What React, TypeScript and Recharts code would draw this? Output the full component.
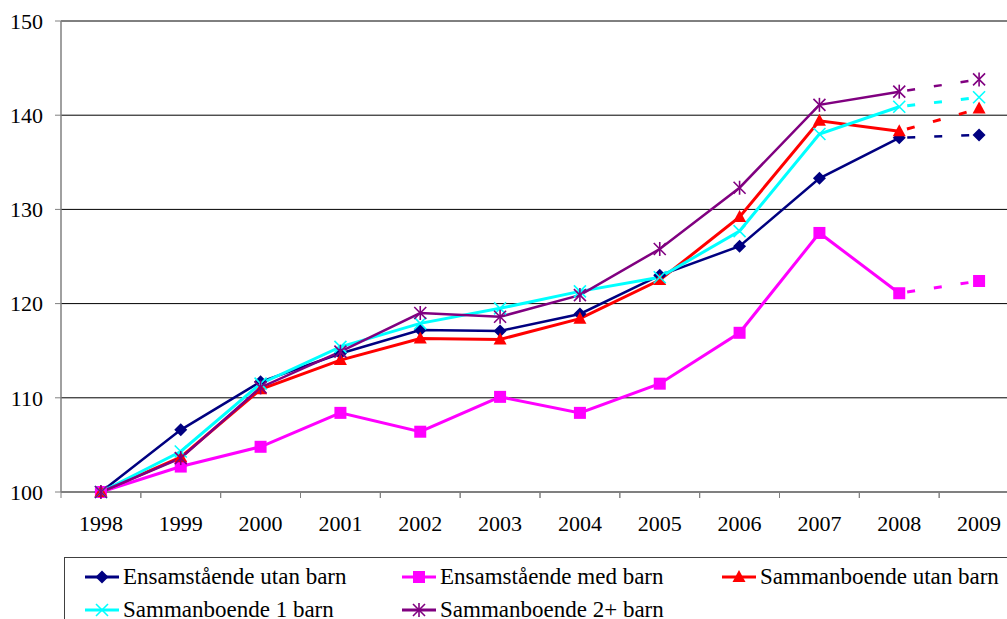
import React from 'react';
import { LineChart, Line, XAxis, YAxis, CartesianGrid } from 'recharts';

const years = ['1998', '1999', '2000', '2001', '2002', '2003', '2004', '2005', '2006', '2007', '2008', '2009'];
const utanBarn = [100, 106.6, 111.7, 114.7, 117.2, 117.1, 118.9, 123.0, 126.1, 133.3, 137.6, 137.9];
const medBarn = [100, 102.7, 104.8, 108.4, 106.4, 110.1, 108.4, 111.5, 116.9, 127.5, 121.1, 122.4];
const sambUtan = [100, 103.7, 110.9, 114.0, 116.3, 116.2, 118.4, 122.5, 129.2, 139.4, 138.3, 140.7];
const samb1 = [100, 104.3, 111.5, 115.4, 117.9, 119.5, 121.3, 122.8, 127.7, 138.0, 140.9, 141.9];
const samb2 = [100, 103.6, 111.1, 114.9, 119.0, 118.6, 120.9, 125.8, 132.3, 141.1, 142.5, 143.8];
const yTicks = [100, 110, 120, 130, 140, 150];

// last year is a forecast, drawn dashed
const LAST_ACTUAL = 10;

const series = [
  { key: 'a', name: 'Ensamstående utan barn', values: utanBarn, color: '#000080', shape: 'diamond', width: 2.5 },
  { key: 'b', name: 'Ensamstående med barn', values: medBarn, color: '#FF00FF', shape: 'square', width: 3 },
  { key: 'c', name: 'Sammanboende utan barn', values: sambUtan, color: '#FF0000', shape: 'triangle', width: 3 },
  { key: 'd', name: 'Sammanboende 1 barn', values: samb1, color: '#00FFFF', shape: 'x', width: 3 },
  { key: 'e', name: 'Sammanboende 2+ barn', values: samb2, color: '#800080', shape: 'star', width: 2.5 },
];

const data = years.map((year, i) => {
  const row: Record<string, string | number | null> = { year };
  series.forEach((s) => {
    row[s.key] = i <= LAST_ACTUAL ? s.values[i] : null;
    row[s.key + 'f'] = i >= LAST_ACTUAL ? s.values[i] : null;
  });
  return row;
});

const W = 1045;
const H = 619;
const PLOT_LEFT = 61;
const PLOT_RIGHT = 1019;
const PLOT_TOP = 21;
const PLOT_BOTTOM = 492;
const HALF_BAND = (PLOT_RIGHT - PLOT_LEFT) / years.length / 2;
const FONT = 'Liberation Serif, DejaVu Serif, serif';

function Marker({ cx, cy, shape, color }: { cx: number; cy: number; shape: string; color: string }) {
  if (cx == null || cy == null || isNaN(cx) || isNaN(cy)) return <g />;
  const r = 6.5;
  if (shape === 'diamond') {
    return <polygon points={`${cx},${cy - r} ${cx + r},${cy} ${cx},${cy + r} ${cx - r},${cy}`} fill={color} />;
  }
  if (shape === 'square') {
    return <rect x={cx - 6} y={cy - 6} width={12} height={12} fill={color} />;
  }
  if (shape === 'triangle') {
    return <polygon points={`${cx},${cy - 7} ${cx + 6.5},${cy + 5} ${cx - 6.5},${cy + 5}`} fill={color} />;
  }
  if (shape === 'x') {
    return (
      <g stroke={color} strokeWidth={1.6}>
        <line x1={cx - 6} y1={cy - 6} x2={cx + 6} y2={cy + 6} />
        <line x1={cx - 6} y1={cy + 6} x2={cx + 6} y2={cy - 6} />
      </g>
    );
  }
  return (
    <g stroke={color} strokeWidth={1.6}>
      <line x1={cx - 6} y1={cy - 6} x2={cx + 6} y2={cy + 6} />
      <line x1={cx - 6} y1={cy + 6} x2={cx + 6} y2={cy - 6} />
      <line x1={cx} y1={cy - 7} x2={cx} y2={cy + 7} />
    </g>
  );
}

const XTick = (props: any) => {
  const { x, payload } = props;
  return (
    <g>
      <line x1={x - HALF_BAND} x2={x - HALF_BAND} y1={PLOT_BOTTOM} y2={PLOT_BOTTOM + 6} stroke="#808080" />
      <line x1={x + HALF_BAND} x2={x + HALF_BAND} y1={PLOT_BOTTOM} y2={PLOT_BOTTOM + 6} stroke="#808080" />
      <text x={x} y={PLOT_BOTTOM + 39} textAnchor="middle" fontFamily={FONT} fontSize={22} fill="#000">
        {payload.value}
      </text>
    </g>
  );
};

const legendPos = [
  { left: 80, top: 565 },
  { left: 397, top: 565 },
  { left: 717, top: 565 },
  { left: 80, top: 598 },
  { left: 397, top: 598 },
];

export default function App() {
  return (
    <div style={{ position: 'absolute', left: 0, top: 0, width: 1007, height: 619, overflow: 'hidden', background: '#fff' }}>
      <LineChart
        width={W}
        height={H}
        data={data}
        margin={{ top: PLOT_TOP, right: W - PLOT_RIGHT, bottom: H - PLOT_BOTTOM - 40, left: 0 }}
        style={{ fontFamily: FONT }}
      >
        <CartesianGrid horizontal vertical={false} stroke="#000" strokeWidth={1} />
        <XAxis
          dataKey="year"
          scale="band"
          height={40}
          tick={<XTick />}
          tickLine={false}
          axisLine={{ stroke: '#808080', strokeWidth: 1.5 }}
          interval={0}
        />
        <YAxis
          width={PLOT_LEFT}
          domain={[100, 150]}
          ticks={yTicks}
          interval={0}
          tickSize={6}
          tickMargin={12}
          tickLine={{ stroke: '#808080' }}
          axisLine={{ stroke: '#808080', strokeWidth: 1.5 }}
          tick={{ fontFamily: FONT, fontSize: 22, fill: '#000' }}
        />
        {series.map((s) => (
          <Line
            key={s.key}
            dataKey={s.key}
            stroke={s.color}
            strokeWidth={s.width}
            isAnimationActive={false}
            connectNulls={false}
            dot={(p: any) => <Marker key={`${s.key}-${p.index}`} cx={p.cx} cy={p.cy} shape={s.shape} color={s.color} />}
            activeDot={false}
          />
        ))}
        {series.map((s) => (
          <Line
            key={s.key + 'f'}
            dataKey={s.key + 'f'}
            stroke={s.color}
            strokeWidth={s.width}
            strokeDasharray="0 8 8 11"
            isAnimationActive={false}
            legendType="none"
            dot={(p: any) =>
              p.index === years.length - 1 ? (
                <Marker key={`${s.key}f-${p.index}`} cx={p.cx} cy={p.cy} shape={s.shape} color={s.color} />
              ) : (
                <g key={`${s.key}f-${p.index}`} />
              )
            }
            activeDot={false}
          />
        ))}
      </LineChart>
      <div
        style={{
          position: 'absolute',
          left: 64,
          top: 557,
          width: 1000,
          height: 100,
          border: '1px solid #404040',
          boxSizing: 'border-box',
        }}
      />
      {series.map((s, i) => (
        <div
          key={s.key}
          style={{
            position: 'absolute',
            left: legendPos[i].left,
            top: legendPos[i].top,
            display: 'flex',
            alignItems: 'center',
            fontFamily: FONT,
            fontSize: 23,
            lineHeight: '24px',
            color: '#000',
            whiteSpace: 'nowrap',
          }}
        >
          <svg width={40} height={24}>
            <line x1={5} x2={39} y1={12} y2={12} stroke={s.color} strokeWidth={3} />
            <Marker cx={22} cy={12} shape={s.shape} color={s.color} />
          </svg>
          <span style={{ marginLeft: 3 }}>{s.name}</span>
        </div>
      ))}
    </div>
  );
}
